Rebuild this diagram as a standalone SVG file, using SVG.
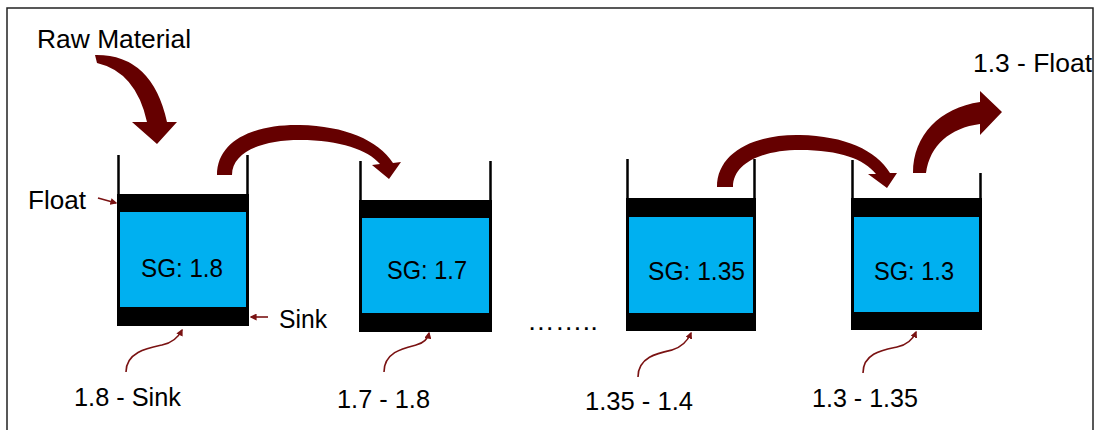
<svg xmlns="http://www.w3.org/2000/svg" width="1099" height="430" viewBox="0 0 1099 430">
  <defs>
    <style>
      .t { font-family: "Liberation Sans", Arial, sans-serif; font-size: 26px; fill: #000; }
      .wall { stroke: #000; stroke-width: 2.5; fill: none; }
      .band { fill: #000; }
      .liq { fill: #00B0F0; }
      .big { fill: #650000; }
      .thin { fill: none; stroke: #7a1212; stroke-width: 1.6; marker-end: url(#ah); }
    </style>
    <marker id="ah" viewBox="0 0 10 10" refX="8" refY="5" markerWidth="7" markerHeight="7" orient="auto" markerUnits="userSpaceOnUse">
      <path d="M0,0 L10,5 L0,10 Z" fill="#7a1212"/>
    </marker>
  </defs>
  <rect x="0" y="0" width="1099" height="430" fill="#fff"/>
  <path d="M7,431 L7,8 L1093,8 L1093,431" fill="none" stroke="#222" stroke-width="1.5"/>

  <g id="raw-material">
    <text class="t" x="37" y="48" textLength="154" lengthAdjust="spacingAndGlyphs">Raw Material</text>
  </g>

  <g id="tank1">
    <rect class="band" x="117" y="194" width="132" height="132"/>
    <rect class="liq" x="120" y="212" width="126" height="95"/>
    <path class="wall" d="M118.5,155 V195 M247.5,155 V195"/>
    <text class="t" x="141" y="277" textLength="82" lengthAdjust="spacingAndGlyphs">SG: 1.8</text>
  </g>
  <g id="tank2">
    <rect class="band" x="359" y="200" width="133" height="132"/>
    <rect class="liq" x="362" y="218" width="127" height="95"/>
    <path class="wall" d="M360.5,161 V201 M490.5,161 V201"/>
    <text class="t" x="387" y="279" textLength="80" lengthAdjust="spacingAndGlyphs">SG: 1.7</text>
  </g>
  <g id="tank3">
    <rect class="band" x="626" y="198" width="130" height="133"/>
    <rect class="liq" x="629" y="217" width="124" height="96"/>
    <path class="wall" d="M627.5,159 V199 M754.5,159 V199"/>
    <text class="t" x="648" y="280" textLength="97" lengthAdjust="spacingAndGlyphs">SG: 1.35</text>
  </g>
  <g id="tank4">
    <rect class="band" x="851" y="198" width="131" height="132"/>
    <rect class="liq" x="854" y="217" width="125" height="95"/>
    <path class="wall" d="M852.5,160 V199 M980.5,173 V199"/>
    <text class="t" x="874" y="280" textLength="80" lengthAdjust="spacingAndGlyphs">SG: 1.3</text>
  </g>

  <g id="dots">
    <text class="t" x="527" y="330" textLength="71" lengthAdjust="spacingAndGlyphs">……..</text>
  </g>

  <g id="labels">
    <text class="t" x="28" y="209" textLength="58" lengthAdjust="spacingAndGlyphs">Float</text>
    <text class="t" x="279" y="328" textLength="48" lengthAdjust="spacingAndGlyphs">Sink</text>
    <text class="t" x="74" y="406" textLength="107" lengthAdjust="spacingAndGlyphs">1.8 - Sink</text>
    <text class="t" x="337" y="408" textLength="93" lengthAdjust="spacingAndGlyphs">1.7 - 1.8</text>
    <text class="t" x="585" y="410" textLength="108" lengthAdjust="spacingAndGlyphs">1.35 - 1.4</text>
    <text class="t" x="812" y="407" textLength="106" lengthAdjust="spacingAndGlyphs">1.3 - 1.35</text>
    <text class="t" x="973" y="72" textLength="119" lengthAdjust="spacingAndGlyphs">1.3 - Float</text>
  </g>

  <g id="connectors">
    <path class="big" d="M95,55 Q152,54 167,122 L177,122 L157,144 L132,122 L147,122 Q136,72 97,63 Z"/>
    <path class="big" d="M217,175 C217,140 255,124 300,125 C345,126 378,140 393,163 L401,162 L389,179 L372,165 L380,164 C368,150 340,140 300,140 C262,140 232,152 232,175 Z"/>
    <path class="big" d="M717,187 C717,152 755,134 800,135 C845,136 876,150 890,173 L897,173 L887,188 L868,174 L876,174 C864,159 840,150 800,150 C762,150 733,163 733,187 Z"/>
    <path class="big" d="M913,173 C913,135 940,108 980,102 L980,91 L1002,112 L980,135 L980,124 C950,128 930,145 926,173 Z"/>
    <path class="thin" d="M98,198 L116,203"/>
    <path class="thin" d="M268,317 L251,317"/>
    <path class="thin" d="M126,372 C126,352 148,348 162,345 C172,343 178,338 182,330"/>
    <path class="thin" d="M384,372 C384,352 404,348 416,345 C424,343 428,338 429,333"/>
    <path class="thin" d="M638,377 C638,357 658,353 672,350 C682,347 688,340 691,333"/>
    <path class="thin" d="M863,373 C863,353 883,350 897,347 C907,345 913,339 916,332"/>
  </g>
</svg>
